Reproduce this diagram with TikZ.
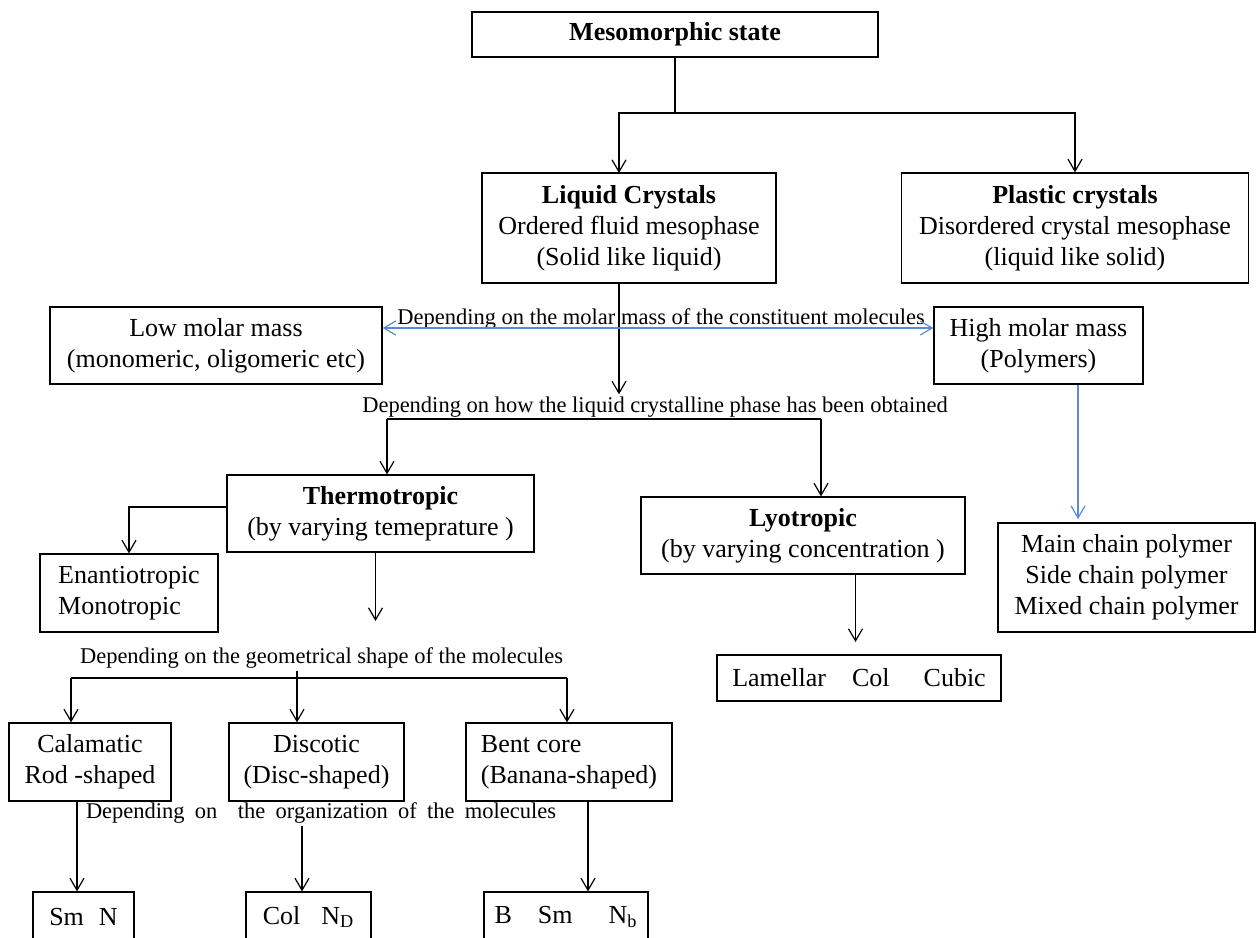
\documentclass[tikz,border=0pt]{standalone}
\usepackage{fontspec}
\setmainfont{Liberation Serif}
\usetikzlibrary{arrows.meta, positioning, calc}
\definecolor{lcblue}{RGB}{90,140,210}

\begin{document}
\begin{tikzpicture}[
        x=0.5pt, y=-0.5pt,
        font=\fontsize{13}{15.5}\selectfont,
        >={Straight Barb[length=6pt, width=7pt]},
        box/.style={draw, line width=0.6pt, align=center, inner sep=0pt},
        lbl/.style={inner sep=1pt, font=\fontsize{11.25}{13}\selectfont},
        ar/.style={->, line width=0.6pt},
        bar/.style={ar, lcblue}
    ]
        \useasboundingbox (0,0) rectangle (1257,937);

        % boxes
        \node[box, minimum width=203pt, minimum height=22.5pt]  (meso)   at (675,34.5)    {\textbf{Mesomorphic state}};
        \node[box, minimum width=147pt, minimum height=55pt]    (lc)     at (629,228)     {\textbf{Liquid Crystals}\\Ordered fluid mesophase\\(Solid like liquid)};
        \node[box, minimum width=173.5pt, minimum height=55pt]  (pc)     at (1075,228)    {\textbf{Plastic crystals}\\Disordered crystal mesophase\\(liquid like solid)};
        \node[box, minimum width=166pt, minimum height=38.5pt]  (low)    at (216,345.5)   {Low molar mass\\(monomeric, oligomeric etc)};
        \node[box, minimum width=104.5pt, minimum height=38.5pt](high)   at (1038.5,345.5){High molar mass\\(Polymers)};
        \node[box, minimum width=153.5pt, minimum height=38.5pt](thermo) at (380.5,513.5) {\textbf{Thermotropic}\\(by varying temeprature )};
        \node[box, minimum width=89pt, minimum height=39pt, align=left] (enant) at (129,593) {Enantiotropic\\Monotropic};
        \node[box, minimum width=162pt, minimum height=38.5pt]  (lyo)    at (803,535.5)   {\textbf{Lyotropic}\\(by varying concentration )};
        \node[box, minimum width=142pt, minimum height=23pt]    (lam)    at (859,678)     {Lamellar\hspace{13pt}Col\hspace{17pt}Cubic};
        \node[box, minimum width=128.5pt, minimum height=54.5pt](poly)   at (1126.5,577.5){Main chain polymer\\Side chain polymer\\Mixed chain polymer};
        \node[box, minimum width=81pt, minimum height=39pt]     (cal)    at (90,762)      {Calamatic\\Rod -shaped};
        \node[box, minimum width=87.5pt, minimum height=39pt]   (disc)   at (316.5,762)   {Discotic\\(Disc-shaped)};
        \node[box, minimum width=103pt, minimum height=39pt, align=left] (bent) at (569,762) {Bent core\\(Banana-shaped)};
        \node[box, minimum width=50.5pt, minimum height=25pt]   (smn)    at (83.5,917)    {Sm\hspace{7.5pt}N};
        \node[box, minimum width=62.5pt, minimum height=25pt]   (col)    at (308.5,917)   {Col\hspace{10.5pt}N\textsubscript{D}};
        \node[box, minimum width=82pt, minimum height=25pt]     (bsm)    at (566,917)     {B\hspace{13pt}Sm\hspace{18pt}N\textsubscript{b}};

        % criteria
        \node[lbl] (molar) at (661,319)   {Depending on the molar mass of the constituent molecules};
        \node[lbl] (how)   at (655,407)   {Depending on how the liquid crystalline phase has been obtained};
        \node[lbl] (geo)   at (321.5,658) {Depending on the geometrical shape of the molecules};
        \node[lbl] (org)   at (321,813)   {\makebox[235pt][s]{Depending on\ \ the organization of the molecules}};

        \coordinate (split)  at (675,113);
        \coordinate (lcin)   at (619,173);
        \coordinate (thin)   at (387,419);
        \coordinate (lyin)   at (821,419);
        \coordinate (mline)  at (0,328);
        \coordinate (polyin) at (1078,519);
        \coordinate (shin)   at (375.5,621);
        \coordinate (lamin)  at (855.5,642);
        \coordinate (gl) at (71,678);
        \coordinate (gm) at (297,678);
        \coordinate (gr) at (567,678);
        \coordinate (calout)  at (77,0);
        \coordinate (discout) at (302,0);
        \coordinate (bentout) at (588,0);

        \draw[line width=0.6pt] (meso) -- (split);
        \draw[ar] (split) -| (lcin);
        \draw[ar] (split) -| (pc.north);
        \draw[ar] (lc.south -| lcin) -- (how.north -| lcin);

        \draw[bar, <->] (low.east |- mline) -- (high.west |- mline);
        \draw[bar] (high.south -| polyin) -- (polyin);

        \draw[line width=0.6pt] (thin) -- (lyin);
        \draw[ar] (thin) -- (thermo.north -| thin);
        \draw[ar] (lyin) -- (lyo.north -| lyin);
        \draw[ar] (lyo.south -| lamin) -- (lamin);

        \draw[ar] ([yshift=3.25pt]thermo.west) -| (enant.north);
        \draw[ar] (thermo.south -| shin) -- (shin);

        \draw[line width=0.6pt] (geo.south -| gm) -- (gm);
        \draw[line width=0.6pt] (gl) -- (gr);
        \foreach \c/\n in {gl/cal, gm/disc, gr/bent}{\draw[ar] (\c) -- (\n.north -| \c);}

        \foreach \s/\c/\t in {cal/calout/smn, org/discout/col, bent/bentout/bsm}{\draw[ar] (\s.south -| \c) -- (\t.north -| \c);}
    \end{tikzpicture}
\end{document}
